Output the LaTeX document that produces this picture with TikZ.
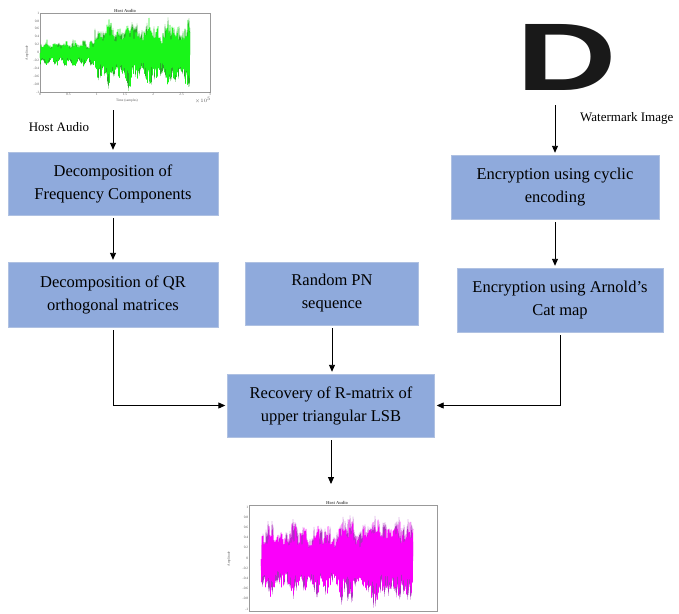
\documentclass[tikz,border=0pt]{standalone}
\usepackage{fontspec}
\setmainfont{Liberation Serif}
\newfontfamily\wmfont{Liberation Sans}
\usetikzlibrary{arrows.meta}
\definecolor{boxblue}{RGB}{143,170,220}
\definecolor{boxedge}{RGB}{175,193,226}
\definecolor{wavegreen}{RGB}{25,245,25}
\definecolor{greenrim}{RGB}{40,170,40}
\definecolor{wavepink}{RGB}{250,0,250}
\definecolor{pinkrim}{RGB}{170,50,190}
\tikzset{
  stagebox/.style={draw=boxedge, fill=boxblue, align=center, inner sep=2pt, font=\fontsize{16.5}{23}\selectfont},
  flow/.style={-{Triangle[length=7pt,width=6pt]}, line width=0.9pt, shorten <=3pt, shorten >=2pt},
  axisframe/.style={draw=black!40, line width=0.3pt},
  ticklab/.style={font=\fontsize{3.5}{4}\selectfont, text=black!65, inner sep=0.6pt},
  sidelab/.style={font=\fontsize{13}{15}\selectfont, inner sep=0pt},
}
\begin{document}
\begin{tikzpicture}[x=1pt,y=-1pt,
  declare function={envg(\t)=(\t<95)*(12+3*sin(\t*40))+(\t>=95)*(22+12*abs(sin(\t*9))+5*sin(\t*37));
                    envm(\t)=27+9*abs(sin(\t*7))+5*sin(\t*31)+10*(\t>340)*abs(sin(\t*5));}]
\useasboundingbox (0,0) rectangle (679,613);
\pgfmathsetseed{11}
% host audio plot
\draw[axisframe] (40,13) rectangle (210,92);
\draw[greenrim, line width=0.45pt] (40,53) \foreach \i in {1,...,300} { -- ({40+\i*0.5},{53+(2*mod(\i,2)-1)*envg(40+\i*0.5)*(0.45+0.55*rnd)}) };
\draw[wavegreen, line width=0.5pt] (40,53) \foreach \i in {1,...,300} { -- ({40+\i*0.5},{53+(2*mod(\i,2)-1)*0.93*envg(40+\i*0.5)*(0.45+0.55*rnd)}) };
\foreach \k/\lab in {0/1,1/0.8,2/0.6,3/0.4,4/0.2,5/0,6/-0.2,7/-0.4,8/-0.6,9/-0.8,10/-1}
  \node[ticklab, left] at (40,{13+\k*7.9}) {\lab};
\foreach \k/\lab in {0/0,1/0.5,2/1,3/1.5,4/2,5/2.5,6/3}
  \node[ticklab, below] at ({40+\k*28.33},92) {\lab};
\node[ticklab, above, font=\fontsize{4.5}{5}\selectfont\bfseries] at (125,13) {Host Audio};
\node[ticklab, rotate=90] at (27,53) {Amplitude};
\node[ticklab] at (127,101) {Time (samples)};
\node[ticklab] at (203,100) {$\times10^{5}$};
\node[sidelab] (hostlab) at (59,127) {Host Audio};
\coordinate (hostout) at (113,110);
% watermark
\node[font=\wmfont\bfseries\fontsize{96}{96}\selectfont, xscale=1.45, inner sep=0pt, text=black!90] (wmimg) at (567,57) {D};
\node[sidelab, anchor=west] (wmlab) at (580,118) {Watermark Image};
\coordinate (wmout) at (555,105);
% stages
\node[stagebox, minimum width=210, minimum height=63] (box1) at (113,183.5) {Decomposition of\\Frequency Components};
\node[stagebox, minimum width=210, minimum height=65] (box2) at (113,294.5) {Decomposition of QR\\orthogonal matrices};
\node[stagebox, minimum width=173, minimum height=63] (box3) at (332,293.5) {Random PN\\sequence};
\node[stagebox, minimum width=208, minimum height=64] (box4) at (555,187) {Encryption using cyclic\\encoding};
\node[stagebox, minimum width=206, minimum height=64] (box5) at (560,300) {Encryption using Arnold's\\Cat map};
\node[stagebox, minimum width=207, minimum height=63] (box6) at (331,405.5) {Recovery of R-matrix of\\upper triangular LSB};
\coordinate (resin) at (331,486);
\draw[flow, shorten <=0pt] (hostout) -- (hostout |- box1.north);
\draw[flow, shorten <=0pt] (wmout) -- (wmout |- box4.north);
\draw[flow] (box1) -- (box2);
\draw[flow] (box4.south) -- (box4.south |- box5.north);
\draw[flow] (box3.south) -- (box3.south |- box6.north);
\draw[flow] (box2.south) |- (box6.west);
\draw[flow] (box5.south) |- (box6.east);
\draw[flow] (box6.south) -- (resin);
% recovered audio plot
\draw[axisframe] (249,505) rectangle (437,611);
\draw[pinkrim, line width=0.45pt] (261,559) \foreach \i in {1,...,304} { -- ({261+\i*0.5},{559+(2*mod(\i,2)-1)*envm(261+\i*0.5)*(0.45+0.55*rnd)}) };
\draw[wavepink, line width=0.5pt] (261,559) \foreach \i in {1,...,304} { -- ({261+\i*0.5},{559+(2*mod(\i,2)-1)*0.93*envm(261+\i*0.5)*(0.45+0.55*rnd)}) };
\foreach \k/\lab in {0/1,1/0.8,2/0.6,3/0.4,4/0.2,5/0,6/-0.2,7/-0.4,8/-0.6,9/-0.8,10/-1}
  \node[ticklab, left] at (249,{507+\k*10.2}) {\lab};
\node[ticklab, above, font=\fontsize{4.5}{5}\selectfont\bfseries] at (337,505) {Host Audio};
\node[ticklab, rotate=90] at (229,559) {Amplitude};
\end{tikzpicture}
\end{document}
